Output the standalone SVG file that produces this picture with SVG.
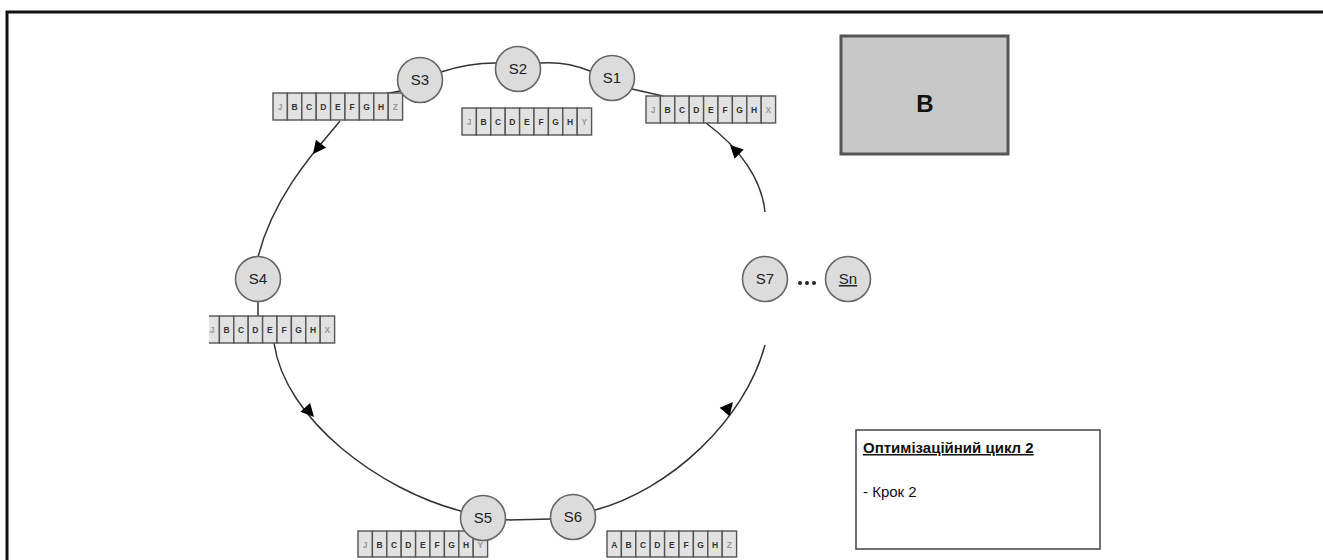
<svg xmlns="http://www.w3.org/2000/svg" xmlns:xlink="http://www.w3.org/1999/xlink" width="1323" height="560" viewBox="0 0 1323 560">
<style>
.node{fill:#dcdcdc;stroke:#666;stroke-width:1.6}
.lbl{font-family:"Liberation Sans",Arial,sans-serif;font-size:15px;fill:#222;text-anchor:middle}
.cell{fill:#e2e2e2;stroke:#555;stroke-width:1.4}
.ct{font-family:"Liberation Sans",Arial,sans-serif;font-size:8.5px;font-weight:bold;fill:#333;text-anchor:middle}
.cl{fill:#999}
.conn{fill:none;stroke:#333;stroke-width:1.5}
</style>
<defs>
<path id="ah" d="M0,0 L-13,-6.5 L-13,6.5 Z" fill="#000"/>
<clipPath id="c4"><rect x="209" y="300" width="200" height="60"/></clipPath>
</defs>
<rect width="1323" height="560" fill="#fff"/>
<path d="M7,560 L7,12 L1323,12" fill="none" stroke="#111" stroke-width="3"/>

<g id="connectors">
<path class="conn" d="M765,212 C762,180 740,148 706,123"/>
<use xlink:href="#ah" transform="translate(730,145) rotate(-135)"/>
<path class="conn" d="M632,89 L663,96"/>
<path class="conn" d="M590,71 Q566,61 540,63"/>
<path class="conn" d="M496,63 Q468,63 441,72"/>
<path class="conn" d="M400,91 L384,94"/>
<path class="conn" d="M340,121 C325,140 275,190 258,257"/>
<use xlink:href="#ah" transform="translate(313,154) rotate(128)"/>
<path class="conn" d="M258,301 L258,316"/>
<path class="conn" d="M274,343 C285,420 380,490 461,511"/>
<use xlink:href="#ah" transform="translate(314,417) rotate(48)"/>
<path class="conn" d="M504,520 L551,519"/>
<path class="conn" d="M595,510 C670,490 745,420 765,345"/>
<use xlink:href="#ah" transform="translate(733,402) rotate(-50)"/>
</g>

<g id="list-s3" transform="translate(273,93)">
<rect class="cell" x="0" y="0" width="14.4" height="27"/><rect class="cell" x="14.4" y="0" width="14.4" height="27"/><rect class="cell" x="28.8" y="0" width="14.4" height="27"/><rect class="cell" x="43.2" y="0" width="14.4" height="27"/><rect class="cell" x="57.6" y="0" width="14.4" height="27"/><rect class="cell" x="72" y="0" width="14.4" height="27"/><rect class="cell" x="86.4" y="0" width="14.4" height="27"/><rect class="cell" x="100.8" y="0" width="14.4" height="27"/><rect class="cell" x="115.2" y="0" width="14.4" height="27"/>
<text class="ct cl" x="7.2" y="17">J</text><text class="ct" x="21.6" y="17">B</text><text class="ct" x="36" y="17">C</text><text class="ct" x="50.4" y="17">D</text><text class="ct" x="64.8" y="17">E</text><text class="ct" x="79.2" y="17">F</text><text class="ct" x="93.6" y="17">G</text><text class="ct" x="108" y="17">H</text><text class="ct cl" x="122.4" y="17">Z</text>
</g>
<g id="list-s2" transform="translate(462,108)">
<rect class="cell" x="0" y="0" width="14.4" height="27"/><rect class="cell" x="14.4" y="0" width="14.4" height="27"/><rect class="cell" x="28.8" y="0" width="14.4" height="27"/><rect class="cell" x="43.2" y="0" width="14.4" height="27"/><rect class="cell" x="57.6" y="0" width="14.4" height="27"/><rect class="cell" x="72" y="0" width="14.4" height="27"/><rect class="cell" x="86.4" y="0" width="14.4" height="27"/><rect class="cell" x="100.8" y="0" width="14.4" height="27"/><rect class="cell" x="115.2" y="0" width="14.4" height="27"/>
<text class="ct cl" x="7.2" y="17">J</text><text class="ct" x="21.6" y="17">B</text><text class="ct" x="36" y="17">C</text><text class="ct" x="50.4" y="17">D</text><text class="ct" x="64.8" y="17">E</text><text class="ct" x="79.2" y="17">F</text><text class="ct" x="93.6" y="17">G</text><text class="ct" x="108" y="17">H</text><text class="ct cl" x="122.4" y="17">Y</text>
</g>
<g id="list-s1" transform="translate(646,96)">
<rect class="cell" x="0" y="0" width="14.4" height="27"/><rect class="cell" x="14.4" y="0" width="14.4" height="27"/><rect class="cell" x="28.8" y="0" width="14.4" height="27"/><rect class="cell" x="43.2" y="0" width="14.4" height="27"/><rect class="cell" x="57.6" y="0" width="14.4" height="27"/><rect class="cell" x="72" y="0" width="14.4" height="27"/><rect class="cell" x="86.4" y="0" width="14.4" height="27"/><rect class="cell" x="100.8" y="0" width="14.4" height="27"/><rect class="cell" x="115.2" y="0" width="14.4" height="27"/>
<text class="ct cl" x="7.2" y="17">J</text><text class="ct" x="21.6" y="17">B</text><text class="ct" x="36" y="17">C</text><text class="ct" x="50.4" y="17">D</text><text class="ct" x="64.8" y="17">E</text><text class="ct" x="79.2" y="17">F</text><text class="ct" x="93.6" y="17">G</text><text class="ct" x="108" y="17">H</text><text class="ct cl" x="122.4" y="17">X</text>
</g>
<g id="list-s4" clip-path="url(#c4)">
<g transform="translate(205,316)">
<rect class="cell" x="0" y="0" width="14.4" height="27"/><rect class="cell" x="14.4" y="0" width="14.4" height="27"/><rect class="cell" x="28.8" y="0" width="14.4" height="27"/><rect class="cell" x="43.2" y="0" width="14.4" height="27"/><rect class="cell" x="57.6" y="0" width="14.4" height="27"/><rect class="cell" x="72" y="0" width="14.4" height="27"/><rect class="cell" x="86.4" y="0" width="14.4" height="27"/><rect class="cell" x="100.8" y="0" width="14.4" height="27"/><rect class="cell" x="115.2" y="0" width="14.4" height="27"/>
<text class="ct cl" x="7.2" y="17">J</text><text class="ct" x="21.6" y="17">B</text><text class="ct" x="36" y="17">C</text><text class="ct" x="50.4" y="17">D</text><text class="ct" x="64.8" y="17">E</text><text class="ct" x="79.2" y="17">F</text><text class="ct" x="93.6" y="17">G</text><text class="ct" x="108" y="17">H</text><text class="ct cl" x="122.4" y="17">X</text>
</g>
</g>
<g id="list-s5" transform="translate(358,531)">
<rect class="cell" x="0" y="0" width="14.4" height="26"/><rect class="cell" x="14.4" y="0" width="14.4" height="26"/><rect class="cell" x="28.8" y="0" width="14.4" height="26"/><rect class="cell" x="43.2" y="0" width="14.4" height="26"/><rect class="cell" x="57.6" y="0" width="14.4" height="26"/><rect class="cell" x="72" y="0" width="14.4" height="26"/><rect class="cell" x="86.4" y="0" width="14.4" height="26"/><rect class="cell" x="100.8" y="0" width="14.4" height="26"/><rect class="cell" x="115.2" y="0" width="14.4" height="26"/>
<text class="ct cl" x="7.2" y="16.5">J</text><text class="ct" x="21.6" y="16.5">B</text><text class="ct" x="36" y="16.5">C</text><text class="ct" x="50.4" y="16.5">D</text><text class="ct" x="64.8" y="16.5">E</text><text class="ct" x="79.2" y="16.5">F</text><text class="ct" x="93.6" y="16.5">G</text><text class="ct" x="108" y="16.5">H</text><text class="ct cl" x="122.4" y="16.5">Y</text>
</g>
<g id="list-s6" transform="translate(607,531)">
<rect class="cell" x="0" y="0" width="14.4" height="26"/><rect class="cell" x="14.4" y="0" width="14.4" height="26"/><rect class="cell" x="28.8" y="0" width="14.4" height="26"/><rect class="cell" x="43.2" y="0" width="14.4" height="26"/><rect class="cell" x="57.6" y="0" width="14.4" height="26"/><rect class="cell" x="72" y="0" width="14.4" height="26"/><rect class="cell" x="86.4" y="0" width="14.4" height="26"/><rect class="cell" x="100.8" y="0" width="14.4" height="26"/><rect class="cell" x="115.2" y="0" width="14.4" height="26"/>
<text class="ct" x="7.2" y="16.5">A</text><text class="ct" x="21.6" y="16.5">B</text><text class="ct" x="36" y="16.5">C</text><text class="ct" x="50.4" y="16.5">D</text><text class="ct" x="64.8" y="16.5">E</text><text class="ct" x="79.2" y="16.5">F</text><text class="ct" x="93.6" y="16.5">G</text><text class="ct" x="108" y="16.5">H</text><text class="ct cl" x="122.4" y="16.5">Z</text>
</g>

<g id="S1"><circle class="node" cx="612" cy="78" r="22.5"/><text class="lbl" x="612" y="83">S1</text></g>
<g id="S2"><circle class="node" cx="518" cy="69" r="22.5"/><text class="lbl" x="518" y="74">S2</text></g>
<g id="S3"><circle class="node" cx="420" cy="80" r="22.5"/><text class="lbl" x="420" y="85">S3</text></g>
<g id="S4"><circle class="node" cx="258" cy="279" r="22.5"/><text class="lbl" x="258" y="284">S4</text></g>
<g id="S5"><circle class="node" cx="483" cy="518" r="22.5"/><text class="lbl" x="483" y="523">S5</text></g>
<g id="S6"><circle class="node" cx="573" cy="517" r="22.5"/><text class="lbl" x="573" y="522">S6</text></g>
<g id="S7"><circle class="node" cx="765" cy="279" r="22.5"/><text class="lbl" x="765" y="284">S7</text></g>
<g id="dots"><circle cx="800" cy="283" r="2" fill="#222"/><circle cx="807" cy="283" r="2" fill="#222"/><circle cx="814" cy="283" r="2" fill="#222"/></g>
<g id="Sn"><circle class="node" cx="848" cy="279" r="22.5"/><text class="lbl" x="848" y="284" text-decoration="underline">Sn</text></g>

<g id="B"><rect x="841" y="36" width="167" height="118" fill="#c8c8c8" stroke="#555" stroke-width="3"/><text x="925" y="112" font-family="Liberation Sans,Arial,sans-serif" font-size="24" font-weight="bold" fill="#111" text-anchor="middle">B</text></g>

<g id="note"><rect x="856" y="430" width="244" height="119" fill="#fff" stroke="#444" stroke-width="1.5"/>
<text x="863" y="453" font-family="Liberation Sans,Arial,sans-serif" font-size="15" font-weight="bold" fill="#111" text-decoration="underline">Оптимізаційний цикл 2</text>
<text x="863" y="497" font-family="Liberation Sans,Arial,sans-serif" font-size="15" fill="#111">- Крок 2</text></g>
</svg>
